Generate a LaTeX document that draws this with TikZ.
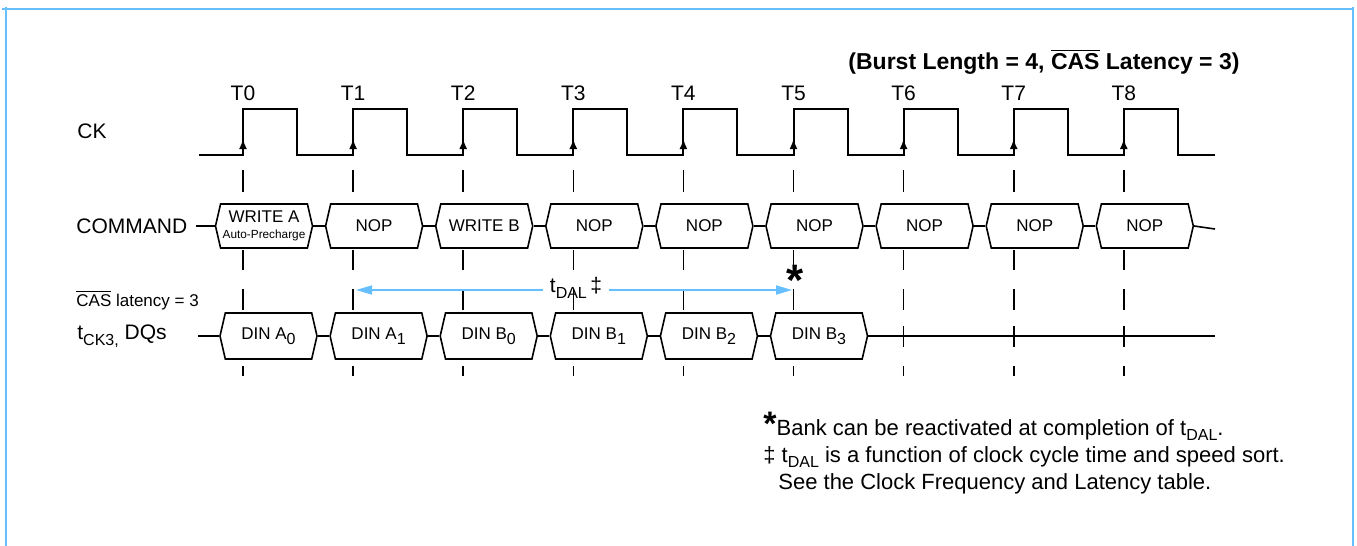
\documentclass[tikz,border=0pt]{standalone}
\usepackage{fontspec}
\setmainfont{Liberation Sans}
\usetikzlibrary{arrows.meta,shapes.symbols}
\definecolor{skyline}{RGB}{102,191,255}
\newcommand\lowsub[1]{\raisebox{-0.5ex}{\fontsize{8}{8}\selectfont #1}}
\tikzset{
	lbl/.style={font=\fontsize{10.5}{12}\selectfont},
	sigbox/.style={signal, signal to=west and east, signal pointer angle=154, draw, fill=white, line width=0.8pt, inner sep=0pt, minimum width=48.5pt, minimum height=22pt, font=\fontsize{8.5}{9}\selectfont},
	dqbox/.style={sigbox, minimum height=23pt},
	wire/.style={line width=0.8pt},
	tickmark/.style={line width=0.8pt},
	dalarrow/.style={skyline, line width=0.9pt, -{Triangle[length=8pt,width=4.5pt]}},
	note/.style={anchor=base west, inner sep=0pt, font=\fontsize{11}{13}\selectfont}
}

\begin{document}
\begin{tikzpicture}[x=0.5pt, y=-0.5pt]
	\useasboundingbox (0,0) rectangle (1357,546);
	\draw[skyline, line width=1pt] (2,8.5) -- (1354,8.5) (6,7) -- (6,546) (1353,7) -- (1353,546);
	\node[font=\fontsize{11.5}{13}\selectfont\bfseries] (title) at (1044,62) {(Burst Length = 4, $\overline{\mbox{CAS}}$ Latency = 3)};
	\node[lbl, anchor=west, inner sep=0pt] (cklabel) at (77,131) {CK};
	\node[lbl, anchor=west, inner sep=0pt] (cmdlabel) at (76,226) {COMMAND};
	\node[anchor=west, inner sep=0pt, font=\fontsize{8.5}{9}\selectfont] (caslabel) at (76,300) {$\overline{\mbox{CAS}}$ latency = 3};
	\node[lbl, anchor=west, inner sep=0pt] (dqlabel) at (77,336) {t\lowsub{CK3,} DQs};

	\draw[line width=1pt] (199,155) foreach \k in {0,...,8} { -- ({243+110.1*\k},155) -- ++(0,-46) -- ++(54,0) -- ++(0,46) } -- (1215,155);
	\foreach \k in {0,...,8} {
		\pgfmathsetmacro\tx{243+110.1*\k}
		\node[lbl] (t\k) at (\tx,93) {T\k};
		\draw[line width=0.9pt, -{Latex[length=5pt,width=4pt]}] (\tx,155) -- (\tx,139);
		\draw[tickmark] (\tx,170) -- (\tx,192) (\tx,250) -- (\tx,270) (\tx,289) -- (\tx,310) (\tx,326) -- (\tx,347) (\tx,366) -- (\tx,376);
	}

	\node[sigbox, align=center] (cmd0) at (264,226) {WRITE A\\[-1pt]{\fontsize{5.9}{6}\selectfont Auto-Precharge}};
	\foreach \k/\txt in {1/NOP,2/WRITE B,3/NOP,4/NOP,5/NOP,6/NOP,7/NOP,8/NOP}
		\node[sigbox] (cmd\k) at ({264+110.1*\k},226) {\txt};
	\coordinate (cmdend) at (1215,229);
	\draw[wire, shorten <=4pt] (cmdlabel.east) -- (cmd0.west);
	\foreach \k [count=\j] in {0,...,7}
		\draw[wire] (cmd\k.east) -- (cmd\j.west);
	\draw[wire] (cmd8.east) -- (cmdend);

	\foreach \k/\txt in {0/A\lowsub{0},1/A\lowsub{1},2/B\lowsub{0},3/B\lowsub{1},4/B\lowsub{2},5/B\lowsub{3}}
		\node[dqbox] (dq\k) at ({268.5+110.1*\k},336) {DIN \txt};
	\coordinate (dqstart) at (198,336);
	\coordinate (dqend) at (1215,336);
	\draw[wire] (dqstart) -- (dq0.west);
	\foreach \k [count=\j] in {0,...,4}
		\draw[wire] (dq\k.east) -- (dq\j.west);
	\draw[wire] (dq5.east) -- (dqend);

	\node[lbl, inner sep=3.5pt] (tdal) at (576,288) {t\lowsub{DAL}\,‡};
	\coordinate (dalL) at (356,290);
	\coordinate (dalR) at (792,290);
	\draw[dalarrow] (tdal.west |- dalL) -- (dalL);
	\draw[dalarrow] (tdal.east |- dalR) -- (dalR);
	\node[font=\fontsize{22}{22}\selectfont\bfseries] (star) at (795,280) {*};

	\node[note] (fn1) at (763,435) {{\fontsize{17}{17}\selectfont\bfseries *}Bank can be reactivated at completion of t\lowsub{DAL}.};
	\node[note] (fn2) at (763,462) {‡ t\lowsub{DAL} is a function of clock cycle time and speed sort.};
	\node[note] (fn3) at (778,489) {See the Clock Frequency and Latency table.};
\end{tikzpicture}
\end{document}
